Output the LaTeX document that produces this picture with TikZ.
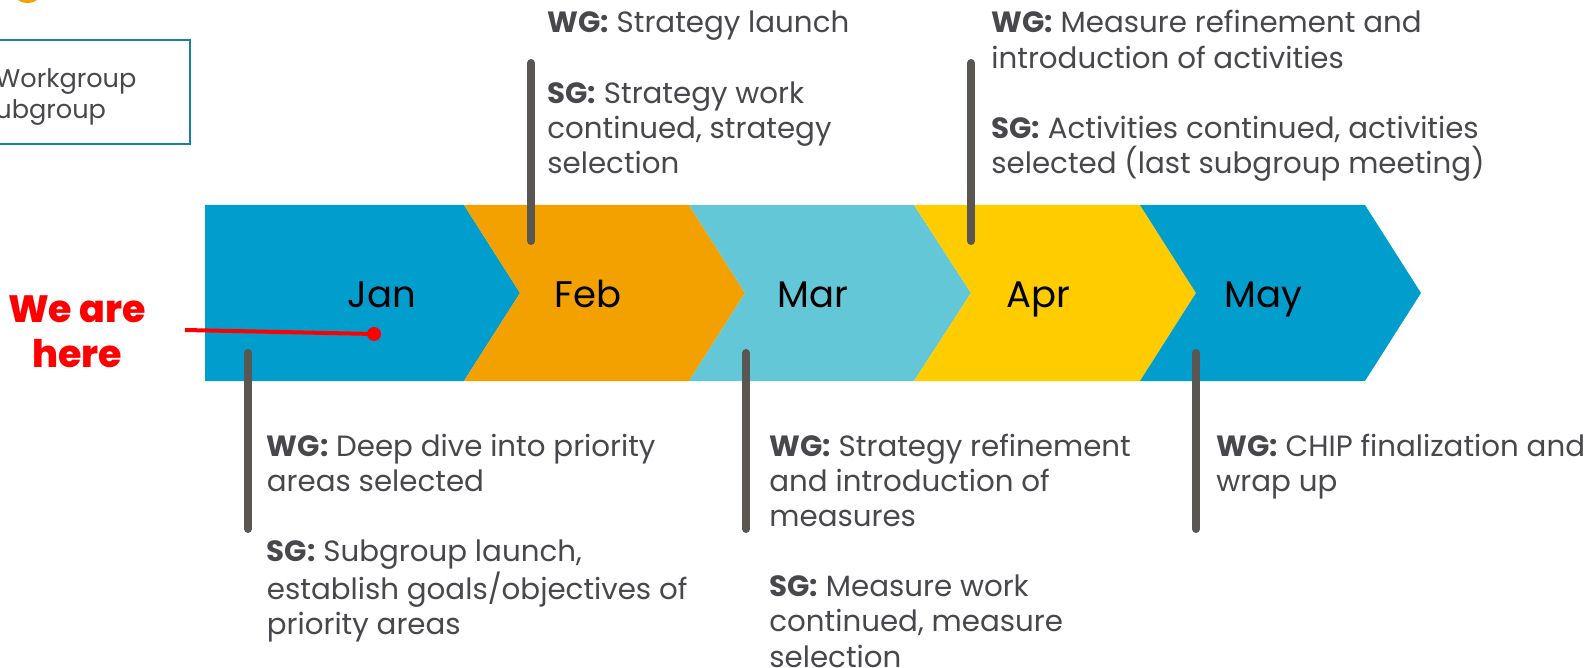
\documentclass[tikz,border=0pt]{standalone}
\usepackage{fontspec}
\setmainfont{Poppins}
\newfontfamily\heavyfont{Poppins ExtraBold}
\definecolor{cblue}{RGB}{0,157,205}
\definecolor{corange}{RGB}{243,161,0}
\definecolor{clight}{RGB}{100,199,216}
\definecolor{cyellow}{RGB}{255,204,0}
\definecolor{txtgray}{RGB}{72,72,76}
\definecolor{bargray}{RGB}{90,86,82}
\definecolor{legborder}{RGB}{24,128,160}
\definecolor{hereRed}{RGB}{255,0,0}
\begin{document}
\begin{tikzpicture}[x=0.5pt,y=-0.5pt,
  txt/.style={anchor=north west,inner sep=0pt,align=left,text=txtgray,
    font=\fontsize{14.65}{17.55}\selectfont},
  month/.style={anchor=base,inner sep=0pt,text=black,font=\fontsize{18.5}{22}\selectfont},
  bar/.style={draw=bargray,line width=4pt,line cap=round}
]
\useasboundingbox (0,0) rectangle (1589,668);
\begin{scope}
\clip (0,0) rectangle (1589,668);
% orange marker (cut off at top)
\fill[corange] (27.5,-13.5) circle[radius=8.25pt];
% legend box
\draw[legborder,line width=1pt] (-20,40.5) rectangle (189.5,144);
\node[anchor=north west,inner sep=0pt,align=left,text=txtgray,
  font=\fontsize{12.8}{15.3}\selectfont] (legend) at (-5,66) {\strut Workgroup\\ubgroup};
\end{scope}
% chevrons
\fill[cblue]   (205,205) -- (464,205) -- (520,293) -- (464,381) -- (205,381) -- cycle;
\fill[corange] (464,205) -- (689,205) -- (745,293) -- (689,381) -- (464,381) -- (520,293) -- cycle;
\fill[clight]  (689,205) -- (914,205) -- (971,293) -- (914,381) -- (689,381) -- (745,293) -- cycle;
\fill[cyellow] (914,205) -- (1140,205) -- (1196,293) -- (1140,381) -- (914,381) -- (971,293) -- cycle;
\fill[cblue]   (1140,205) -- (1365,205) -- (1421,293) -- (1365,381) -- (1140,381) -- (1196,293) -- cycle;
% month labels
\node[month] (jan) at (382,307) {Jan};
\node[month] (feb) at (588,307) {Feb};
\node[month] (mar) at (813,307) {Mar};
\node[month] (apr) at (1038,307) {Apr};
\node[month] (may) at (1263,307) {May};
% bars
\coordinate (febT1) at (531,63);  \coordinate (febT2) at (531,241);
\coordinate (aprT1) at (971,63);  \coordinate (aprT2) at (971,241);
\coordinate (janB1) at (248,353); \coordinate (janB2) at (248,529);
\coordinate (marB1) at (746,353); \coordinate (marB2) at (746,529);
\coordinate (mayB1) at (1196,353); \coordinate (mayB2) at (1196,529);
\draw[bar] (febT1) -- (febT2);
\draw[bar] (aprT1) -- (aprT2);
\draw[bar] (janB1) -- (janB2);
\draw[bar] (marB1) -- (marB2);
\draw[bar] (mayB1) -- (mayB2);
% texts
\node[txt] (tfeb) at (547,8) {\strut\textbf{WG:} Strategy launch\\[17.55pt]
  \textbf{SG:} Strategy work\\continued, strategy\\selection};
\node[txt] (tapr) at (991,8) {\strut\textbf{WG:} Measure refinement and\\introduction of activities\\[17.55pt]
  \textbf{SG:} Activities continued, activities\\selected (last subgroup meeting)};
\node[txt] (tjan) at (266.5,431.5) {\strut\textbf{WG:} Deep dive into priority\\areas selected\\[17.55pt]
  \textbf{SG:} Subgroup launch,\\establish goals/objectives of\\priority areas};
\node[txt] (tmar) at (769,431.5) {\strut\textbf{WG:} Strategy refinement\\and introduction of\\measures\\[17.55pt]
  \textbf{SG:} Measure work\\continued, measure\\selection};
\node[txt] (tmay) at (1216,431.5) {\strut\textbf{WG:} CHIP finalization and\\wrap up};
% we are here
\node[anchor=north,inner sep=0pt,align=center,text=hereRed,
  font=\heavyfont\fontsize{19}{22.8}\selectfont] (here) at (77,290) {\strut We are\\here};
\coordinate (hereStart) at (185,330);
\node[circle,fill=hereRed,inner sep=0pt,minimum size=7pt] (dot) at (374,334) {};
\draw[hereRed,line width=2pt] (hereStart) -- (dot.center);
\end{tikzpicture}
\end{document}
